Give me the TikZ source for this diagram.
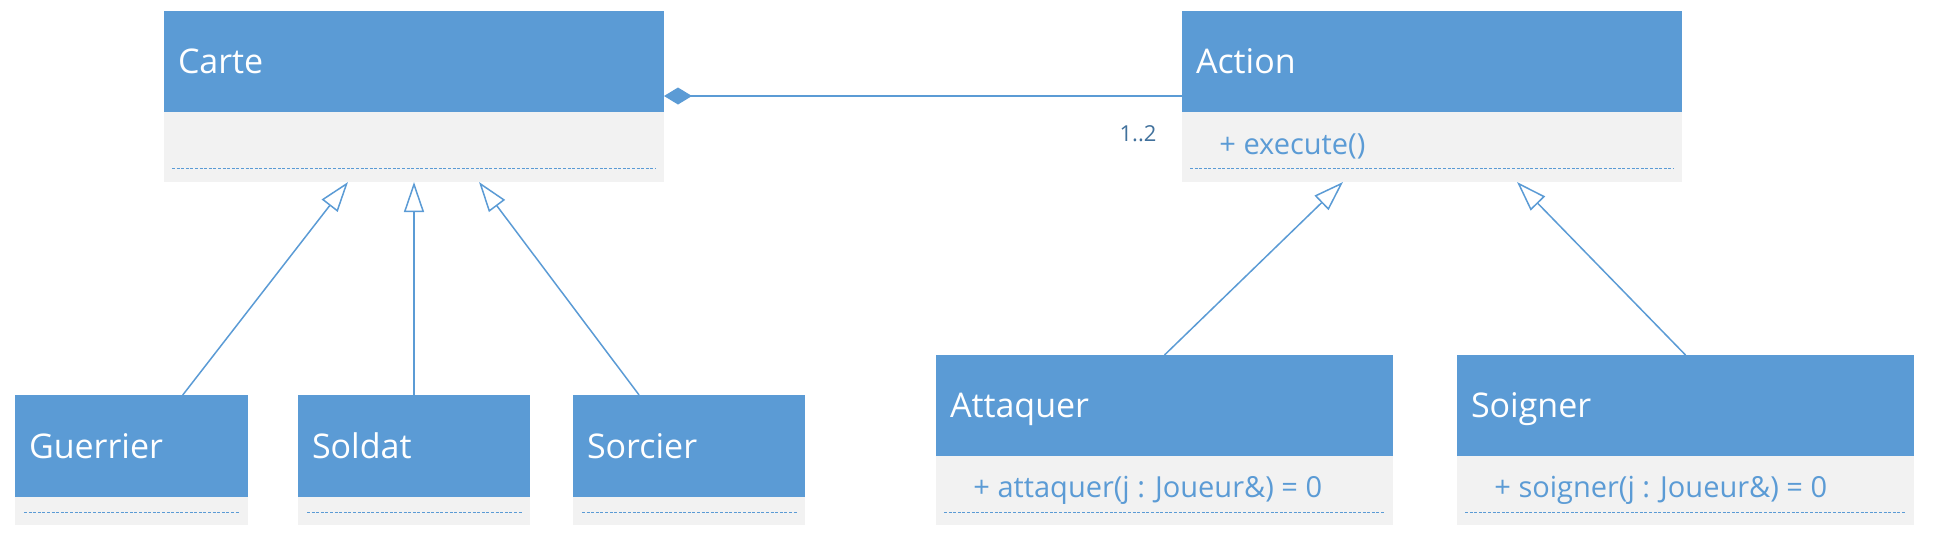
\documentclass[tikz,border=0pt]{standalone}
\usepackage{fontspec}
\setmainfont{Open Sans}
\usetikzlibrary{arrows.meta,calc}
\definecolor{hdr}{HTML}{5B9BD5}
\definecolor{bdy}{HTML}{F2F2F2}
\definecolor{ln}{HTML}{5B9BD5}
\definecolor{mult}{HTML}{41719C}
\tikzset{
  hdrbox/.style n args={2}{draw=none, fill=hdr, anchor=north west, outer sep=0pt,
    inner xsep=7pt, inner ysep=0pt, align=left, text=white, text width=#1, minimum height=#2,
    text depth=0pt, font=\fontsize{17}{20}\selectfont},
  bdybox/.style n args={2}{draw=none, fill=bdy, anchor=north west, outer sep=0pt,
    inner sep=0pt, minimum width=#1, minimum height=#2},
  meth/.style={anchor=west, inner sep=0pt, text=hdr, font=\fontsize{14.5}{17}\selectfont},
  dotln/.style={draw=ln, line width=0.5pt, dash pattern=on 1.5pt off 0.8pt},
  conn/.style={draw=ln, line width=0.75pt},
  inherit/.style={conn, -{Triangle[open, length=15pt, width=10pt, fill=white]}},
  compo/.style={conn, -{Diamond[length=14pt, width=8.5pt]}},
}
\begin{document}
\begin{tikzpicture}[x=0.5pt,y=-0.5pt]
\useasboundingbox (0,0) rectangle (1934,538);
% Carte
\node[hdrbox={236pt}{50.5pt}] (carteH) at (164,11) {Carte};
\node[bdybox={250pt}{35pt}] (carteB) at (carteH.south west) {};
\draw[dotln] ([xshift=4pt,yshift=7pt]carteB.south west) -- ([xshift=-4pt,yshift=7pt]carteB.south east);
% Action
\node[hdrbox={236pt}{50.5pt}] (actionH) at (1182,11) {Action};
\node[bdybox={250pt}{35pt}] (actionB) at (actionH.south west) {};
\node[meth] (actionM) at ([xshift=18.5pt,yshift=0.5pt]actionB.west) {+ execute()};
\draw[dotln] ([xshift=4pt,yshift=7pt]actionB.south west) -- ([xshift=-4pt,yshift=7pt]actionB.south east);
% Guerrier, Soldat, Sorcier
\node[hdrbox={102.5pt}{51pt}] (guerrierH) at (15,395) {Guerrier};
\node[bdybox={116.5pt}{14pt}] (guerrierB) at (guerrierH.south west) {};
\draw[dotln] ([xshift=4.5pt,yshift=6.5pt]guerrierB.south west) -- ([xshift=-4pt,yshift=6.5pt]guerrierB.south east);
\node[hdrbox={102pt}{51pt}] (soldatH) at (298,395) {Soldat};
\node[bdybox={116pt}{14pt}] (soldatB) at (soldatH.south west) {};
\draw[dotln] ([xshift=4.5pt,yshift=6.5pt]soldatB.south west) -- ([xshift=-4pt,yshift=6.5pt]soldatB.south east);
\node[hdrbox={102pt}{51pt}] (sorcierH) at (573,395) {Sorcier};
\node[bdybox={116pt}{14pt}] (sorcierB) at (sorcierH.south west) {};
\draw[dotln] ([xshift=4.5pt,yshift=6.5pt]sorcierB.south west) -- ([xshift=-4pt,yshift=6.5pt]sorcierB.south east);
% Attaquer, Soigner
\node[hdrbox={214.5pt}{50.5pt}] (attaquerH) at (936,355) {Attaquer};
\node[bdybox={228.5pt}{34.5pt}] (attaquerB) at (attaquerH.south west) {};
\node[meth] (attaquerM) at ([xshift=18.5pt,yshift=0pt]attaquerB.west) {+ attaquer(j : Joueur\&) = 0};
\draw[dotln] ([xshift=4pt,yshift=6.5pt]attaquerB.south west) -- ([xshift=-4.5pt,yshift=6.5pt]attaquerB.south east);
\node[hdrbox={214.5pt}{50.5pt}] (soignerH) at (1457,355) {Soigner};
\node[bdybox={228.5pt}{34.5pt}] (soignerB) at (soignerH.south west) {};
\node[meth] (soignerM) at ([xshift=18.5pt,yshift=0pt]soignerB.west) {+ soigner(j : Joueur\&) = 0};
\draw[dotln] ([xshift=4pt,yshift=6.5pt]soignerB.south west) -- ([xshift=-4.5pt,yshift=6.5pt]soignerB.south east);
% composition
\draw[compo] ([yshift=-17.25pt]actionH.west) -- ([yshift=-17.25pt]carteH.east);
\node[inner sep=0pt, text=mult, font=\fontsize{11}{13}\selectfont] (mult) at (1138,134) {1..2};
% inheritance
\draw[inherit] ($(guerrierH.north west)!0.72!(guerrierH.north east)$) -- ($(carteB.south west)!0.368!(carteB.south east)$);
\draw[inherit] (soldatH.north) -- (soldatH.north |- carteB.south);
\draw[inherit] ($(sorcierH.north west)!0.285!(sorcierH.north east)$) -- ($(carteB.south west)!0.63!(carteB.south east)$);
\draw[inherit] (attaquerH.north) -- ($(actionB.south west)!0.322!(actionB.south east)$);
\draw[inherit] ($(soignerH.north west)!0.5!(soignerH.north east)$) -- ($(actionB.south west)!0.67!(actionB.south east)$);
\end{tikzpicture}
\end{document}
